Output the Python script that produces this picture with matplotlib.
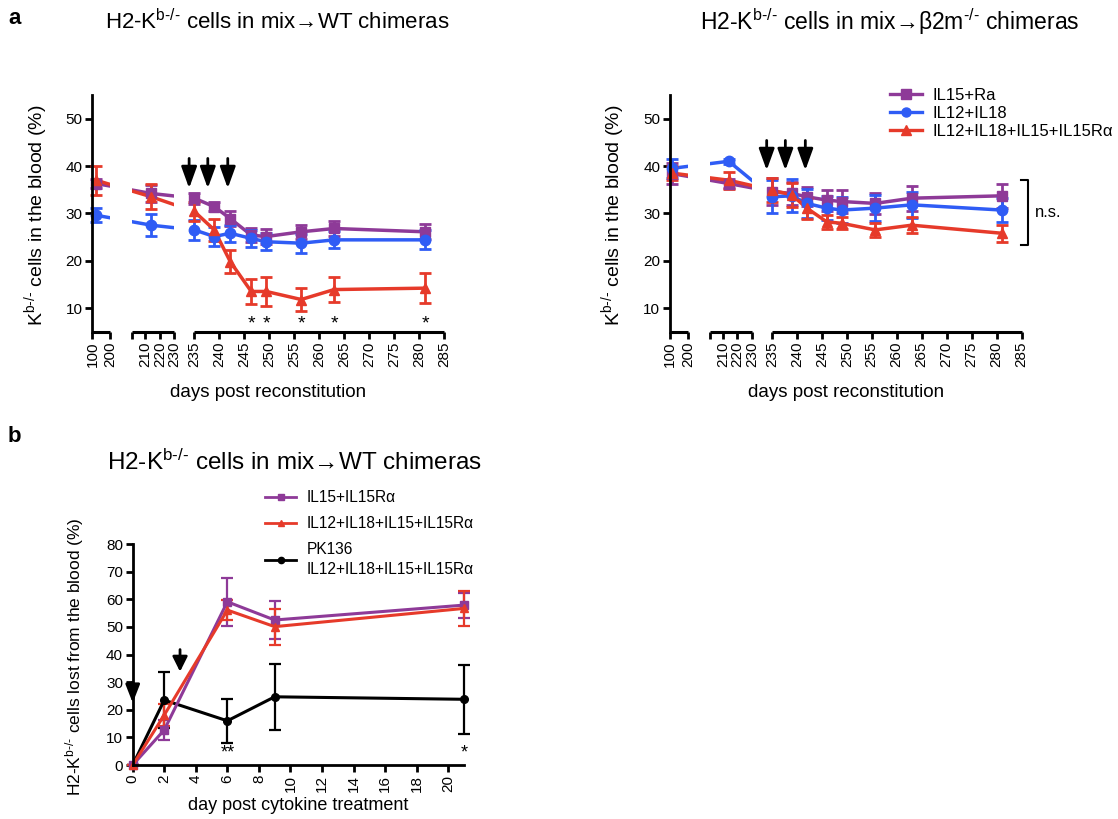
import numpy as np
import matplotlib
matplotlib.use("Agg")
import matplotlib.pyplot as plt
from matplotlib.lines import Line2D
from matplotlib.patches import Rectangle

plt.rcParams['font.family'] = ['Liberation Sans', 'DejaVu Sans']
plt.rcParams['mathtext.fontset'] = 'custom'
plt.rcParams['mathtext.rm'] = 'Liberation Sans'
plt.rcParams['mathtext.it'] = 'Liberation Sans:italic'
plt.rcParams['mathtext.bf'] = 'Liberation Sans:bold'

PURPLE = '#8e3a98'
BLUE = '#2f5cf5'
RED = '#e63a2a'

# ---- panel a, mix -> WT chimeras ----
days_wt = [120, 214, 235, 239, 242.2, 246.4, 249.4, 256.4, 263, 281.3]
wt_il15_mean = [36.3, 34.2, 33.2, 31.4, 28.9, 25.4, 25.1, 26.1, 26.8, 26.1]
wt_il15_sem = [1.0, 1.8, 1.2, 1.0, 1.5, 1.5, 1.5, 1.5, 1.6, 1.6]
wt_il12_mean = [29.6, 27.5, 26.5, 25.1, 25.8, 24.7, 24.0, 23.7, 24.4, 24.4]
wt_il12_sem = [1.5, 2.3, 2.2, 2.0, 1.8, 1.8, 1.8, 2.0, 1.8, 2.0]
wt_combo_mean = [37.0, 33.5, 30.4, 26.5, 19.8, 13.5, 13.5, 11.8, 13.9, 14.2]
wt_combo_sem = [3.1, 2.6, 2.0, 2.3, 2.5, 2.6, 3.0, 2.5, 2.6, 3.2]
wt_star_days = [246.4, 249.4, 256.4, 263, 281.3]

# ---- panel a, mix -> b2m-/- chimeras ----
days_b2m = [110, 214, 235, 239, 242, 246, 249, 255.7, 263, 281]
b2m_il15_mean = [38.4, 36.3, 34.6, 34.2, 33.5, 32.8, 32.5, 32.1, 33.2, 33.7]
b2m_il15_sem = [2.2, 1.0, 2.8, 2.5, 2.0, 2.2, 2.4, 2.3, 2.6, 2.5]
b2m_il12_mean = [39.5, 41.0, 33.5, 33.7, 32.1, 31.1, 30.7, 31.1, 31.8, 30.7]
b2m_il12_sem = [2.0, 0.5, 3.5, 3.5, 3.0, 2.5, 2.8, 2.8, 2.8, 2.5]
b2m_combo_mean = [38.5, 37.0, 34.9, 33.9, 31.1, 28.2, 27.9, 26.5, 27.5, 25.8]
b2m_combo_sem = [1.5, 1.8, 2.5, 2.5, 2.2, 1.5, 1.3, 1.5, 1.7, 1.8]
ns_range = (23.3, 37.0)

treat_days = [233.7, 237.7, 241.7]        # cytokine injections (arrows)

# ---- panel b ----
days_ct = [0, 2, 6, 9, 21]
ct_il15_mean = [0, 12.7, 59.1, 52.5, 57.9]
ct_il15_sem = [0, 3.5, 8.7, 7.0, 4.5]
ct_combo_mean = [0, 18.1, 56.1, 50.1, 56.7]
ct_combo_sem = [0, 4.0, 3.5, 6.5, 6.3]
ct_pk_mean = [0, 23.5, 16.0, 24.7, 23.8]
ct_pk_sem = [0, 10.0, 8.0, 12.0, 12.4]
ct_treat_days = [0, 3]
ct_stars = {6: '**', 21: '*'}

# broken x axis: day -> axis position (pixels along the axis)
BREAK_DAYS = [-1000, 100, 200, 201, 230, 235, 285, 2000]
BREAK_POS = [-198, 0, 18, 40, 82, 102, 352, 352 + 1715 * 5]
SEGMENTS = [(100, 200), (201, 230), (235, 285)]
XTICKS = [100, 200, 201, 210, 220, 230] + list(range(235, 290, 5))
XTICKLABELS = ['100', '200', '', '210', '220', '230'] + [str(v) for v in range(235, 290, 5)]

KO = r'$^{\text{b-/-}}$'


def to_axis(x):
    return np.interp(x, BREAK_DAYS, BREAK_POS)


def from_axis(p):
    return np.interp(p, BREAK_POS, BREAK_DAYS)


def style_axis(ax):
    for s in ('top', 'right'):
        ax.spines[s].set_visible(False)
    for s in ('left', 'bottom'):
        ax.spines[s].set_linewidth(2)
    ax.tick_params(direction='out', length=5, width=2, labelsize=11, pad=2)


def chimera_panel(ax, days, series, arrow_top, arrow_tip):
    ax.set_xscale('function', functions=(to_axis, from_axis))
    ax.set_xlim(100, 285)
    ax.set_ylim(5, 55)
    style_axis(ax)
    ax.spines['bottom'].set_visible(False)
    for lo, hi in SEGMENTS:
        ax.plot([lo, hi], [0, 0], color='k', lw=2.2, solid_capstyle='butt',
                transform=ax.get_xaxis_transform(), clip_on=False)
    ax.set_xticks(XTICKS)
    ax.set_xticklabels(XTICKLABELS, rotation=90)
    ax.set_xticks([], minor=True)
    ax.set_yticks([10, 20, 30, 40, 50])
    for mean, sem, color, marker in series:
        for lo, hi in SEGMENTS:
            ln, = ax.plot(days, mean, color=color, lw=2.5)
            ln.set_clip_path(Rectangle((lo, 0), hi - lo, 1,
                                       transform=ax.get_xaxis_transform()))
        ax.errorbar(days, mean, yerr=sem, fmt=marker, color=color, ms=7.5,
                    capsize=4, elinewidth=2, capthick=2, clip_on=False)
    for d in treat_days:
        ax.annotate('', xy=(d, arrow_tip), xytext=(d, arrow_top),
                    arrowprops=dict(arrowstyle='-|>,head_length=1.3,head_width=0.47',
                                    color='k', lw=2, mutation_scale=10,
                                    shrinkA=0, shrinkB=0))
    ax.set_xlabel('days post reconstitution', fontsize=13.5)
    ax.xaxis.set_label_coords(0.5, -0.222)
    ax.set_ylabel('K' + KO + ' cells in the blood (%)', fontsize=14)
    ax.yaxis.set_label_coords(-0.122, 0.49)


fig = plt.figure(figsize=(11.18, 8.19), dpi=100)

ax1 = fig.add_axes([0.0827, 0.595, 0.3144, 0.289])
chimera_panel(ax1, days_wt,
              [(wt_il15_mean, wt_il15_sem, PURPLE, 's'),
               (wt_il12_mean, wt_il12_sem, BLUE, 'o'),
               (wt_combo_mean, wt_combo_sem, RED, '^')],
              41.6, 35.3)
for d in wt_star_days:
    ax1.text(d, 6.6, '*', ha='center', va='center', fontsize=14)

ax2 = fig.add_axes([0.5993, 0.595, 0.3144, 0.289])
chimera_panel(ax2, days_b2m,
              [(b2m_il15_mean, b2m_il15_sem, PURPLE, 's'),
               (b2m_il12_mean, b2m_il12_sem, BLUE, 'o'),
               (b2m_combo_mean, b2m_combo_sem, RED, '^')],
              45.4, 39.1)
lo_ns, hi_ns = ns_range
ax2.plot([284.8, 286.2, 286.2, 284.8], [hi_ns, hi_ns, lo_ns, lo_ns],
         color='k', lw=1.5, clip_on=False)
ax2.text(287.6, (lo_ns + hi_ns) / 2, 'n.s.', ha='left', va='center', fontsize=12)

leg_a = [Line2D([], [], color=PURPLE, marker='s', lw=2.4, ms=6.5),
         Line2D([], [], color=BLUE, marker='o', lw=2.4, ms=6.5),
         Line2D([], [], color=RED, marker='^', lw=2.4, ms=6.5)]
ax2.legend(leg_a, ['IL15+Ra', 'IL12+IL18', 'IL12+IL18+IL15+IL15Rα'],
           loc='upper left', bbox_to_anchor=(0.796, 0.893),
           bbox_transform=fig.transFigure, frameon=False, fontsize=12,
           handlelength=1.9, handletextpad=0.65, labelspacing=0.2,
           borderpad=0, borderaxespad=0)

# ---- panel b ----
ax3 = fig.add_axes([0.1187, 0.0659, 0.2963, 0.2698])
style_axis(ax3)
ax3.set_xlim(0, 21)
ax3.set_ylim(0, 80)
ax3.set_xticks(range(0, 21, 2))
ax3.set_xticklabels([str(v) for v in range(0, 21, 2)], rotation=90)
ax3.set_yticks(range(0, 81, 10))
for mean, sem, color, marker in [(ct_pk_mean, ct_pk_sem, 'k', 'o'),
                                 (ct_il15_mean, ct_il15_sem, PURPLE, 's'),
                                 (ct_combo_mean, ct_combo_sem, RED, '^')]:
    ax3.errorbar(days_ct, mean, yerr=sem, fmt='-' + marker, color=color, lw=2.2,
                 ms=5.5, capsize=4, elinewidth=1.6, capthick=1.6, clip_on=False)
ax3.annotate('', xy=(ct_treat_days[0], 22.5), xytext=(ct_treat_days[0], 30),
             arrowprops=dict(arrowstyle='-|>,head_length=1.1,head_width=0.43',
                             color='k', lw=2, mutation_scale=10, shrinkA=0, shrinkB=0))
ax3.annotate('', xy=(ct_treat_days[1], 33.8), xytext=(ct_treat_days[1], 41.8),
             arrowprops=dict(arrowstyle='-|>,head_length=0.9,head_width=0.45',
                             color='k', lw=2, mutation_scale=10, shrinkA=0, shrinkB=0))
for d, s in ct_stars.items():
    ax3.text(d, 4.2, s, ha='center', va='center', fontsize=13)
ax3.set_xlabel('day post cytokine treatment', fontsize=13)
ax3.xaxis.set_label_coords(0.5, -0.145)
ax3.set_ylabel('H2-K' + KO + ' cells lost from the blood (%)', fontsize=12.5)
ax3.yaxis.set_label_coords(-0.142, 0.49)

leg_b = [Line2D([], [], color=PURPLE, marker='s', lw=2, ms=4.5),
         Line2D([], [], color=RED, marker='^', lw=2, ms=4.5),
         Line2D([], [], color='k', marker='o', lw=2, ms=4.5)]
lb = ax3.legend(leg_b, ['IL15+IL15Rα', 'IL12+IL18+IL15+IL15Rα', 'PK136\nIL12+IL18+IL15+IL15Rα'],
                loc='upper left', bbox_to_anchor=(0.237, 0.4017),
                bbox_transform=fig.transFigure, frameon=False, fontsize=11.2,
                handlelength=2.0, handletextpad=0.7, labelspacing=0.72,
                borderpad=0, borderaxespad=0)
lb.get_texts()[2].set_linespacing(1.35)

# titles and panel letters
title_wt = 'H2-K' + KO + ' cells in mix→WT chimeras'
fig.text(277 / 1118, 1 - 22 / 819, title_wt, ha='center', va='center', fontsize=16)
fig.text(890 / 1118, 1 - 22 / 819,
         'H2-K' + KO + r' cells in mix→β2m$^{\text{-/-}}$ chimeras',
         ha='center', va='center', fontsize=16.5)
fig.text(295 / 1118, 1 - 462 / 819, title_wt, ha='center', va='center', fontsize=17.5)
fig.text(8 / 1118, 1 - 18 / 819, 'a', ha='left', va='center', fontsize=16, weight='bold')
fig.text(8 / 1118, 1 - 437 / 819, 'b', ha='left', va='center', fontsize=16, weight='bold')

fig.savefig('out.png', dpi=100)
